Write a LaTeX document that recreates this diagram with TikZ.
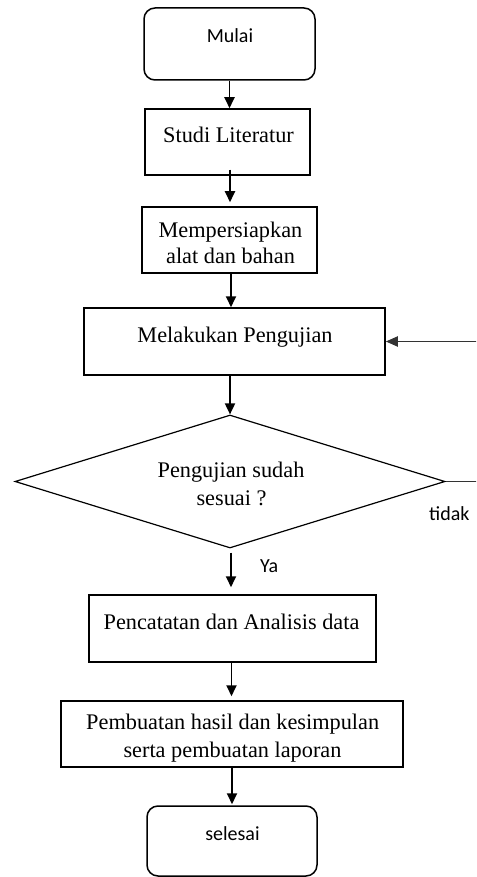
\documentclass[tikz,border=0pt]{standalone}
\usepackage{fontspec}
\setmainfont{Liberation Serif}
\newfontfamily\calib{Carlito}
\usetikzlibrary{shapes.geometric,arrows.meta,calc}
\begin{document}
\begin{tikzpicture}[x=1pt,y=-1pt,
  box/.style={draw, line width=1.5pt, inner sep=0pt},
  term/.style={box, rounded corners=11pt},
  serif/.style={inner sep=0pt, anchor=base, font=\fontsize{22.3}{26}\selectfont},
  sans/.style={inner sep=0pt, anchor=base, font=\calib\fontsize{20}{24}\selectfont},
  arr/.style={line width=1.8pt, -{Triangle[length=11pt,width=10pt]}}]
\useasboundingbox (0,0) rectangle (476,877);
\clip (0,0) rectangle (476,877);
% boxes
\node[term, minimum width=171pt, minimum height=72pt] (mulai) at (229.5,44) {};
\node[box, minimum width=165pt, minimum height=66pt] (studi) at (227.5,142) {};
\node[box, minimum width=175pt, minimum height=66pt] (alat) at (229.5,240) {};
\node[box, minimum width=301pt, minimum height=67pt] (uji) at (234.5,341.5) {};
\node[draw, diamond, line width=1.2pt, inner sep=0pt, minimum width=430pt, minimum height=133pt] (cek) at (230,481.5) {};
\node[box, minimum width=287pt, minimum height=67pt] (catat) at (232.5,628.5) {};
\node[box, minimum width=342pt, minimum height=66pt] (buat) at (232,734) {};
\node[term, minimum width=170pt, minimum height=70pt] (selesai) at (232,841) {};
% texts
\node[sans] (tmulai) at (230,42.5) {Mulai};
\node[serif] (tstudi) at (228.5,143) {Studi Literatur};
\node[serif] (talat1) at (230.5,237) {Mempersiapkan};
\node[serif] (talat2) at (230.5,263) {alat dan bahan};
\node[serif] (tuji) at (235,342) {Melakukan Pengujian};
\node[serif] (tcek1) at (231,477) {Pengujian sudah};
\node[serif] (tcek2) at (231.5,505) {sesuai ?};
\node[sans, anchor=base west] (tya) at (260,572) {Ya};
\node[sans, anchor=base west] (ttidak) at (429,520) {tidak};
\node[serif] (tcatat) at (231.5,629) {Pencatatan dan Analisis data};
\node[serif] (tbuat1) at (232.7,729) {Pembuatan hasil dan kesimpulan};
\node[serif] (tbuat2) at (232.5,757) {serta pembuatan laporan};
\node[sans] (tselesai) at (232.5,840) {selesai};
% connectors
\draw[arr] (mulai.south) -- (mulai.south |- studi.north);
\draw[arr] ($(studi.south)+(2.5,-6)$) -- ($(studi.south |- alat.north)+(2.5,-4)$);
\draw[arr] ($(alat.south)+(1.5,0)$) -- ($(alat.south |- uji.north)+(1.5,0)$);
\draw[arr] (cek.north |- uji.south) -- (cek.north);
\draw[arr, shorten <=4pt, shorten >=7pt] ($(cek.south)+(1,0)$) -- ($(cek.south |- catat.north)+(1,0)$);
\draw[arr, shorten >=4pt] ($(catat.south)+(-1,0)$) -- ($(catat.south |- buat.north)+(-1,0)$);
\draw[arr, shorten >=1pt] (buat.south) -- (buat.south |- selesai.north);
\coordinate (fbB) at (480,481.5);
\coordinate (fbA) at (480,341.5);
\draw[line width=1.8pt, draw=black!80] (cek.east) -- (fbB) -- (fbA);
\draw[line width=1.8pt, draw=black!80, -{Triangle[length=12pt,width=10pt]}] (fbA) -- (uji.east);
\end{tikzpicture}
\end{document}
